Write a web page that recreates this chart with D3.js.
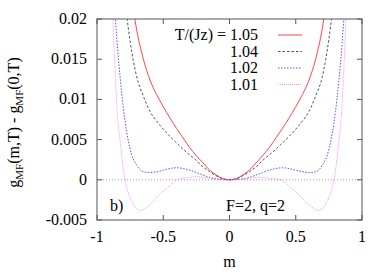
<!DOCTYPE html>
<html>
<head>
<meta charset="UTF-8" />
<script src="https://d3js.org/d3.v7.min.js"></script>
<style>
  body { margin: 0; background: #fff; }
  .frame { fill: none; stroke: #555; stroke-width: 1; }
  .tick { stroke: #555; stroke-width: 1; }
  .zero { stroke: #999; stroke-width: 1; stroke-dasharray: 1, 2; }
</style>
</head>
<body>
<svg width="391" height="273"></svg>
<script>
  const width = 391, height = 273;
  const margin = { left: 97, right: 29, top: 19, bottom: 53 };

  // axis ticks
  const xTicks = [-1, -0.5, 0, 0.5, 1];
  const yTicks = [-0.005, 0, 0.005, 0.01, 0.015, 0.02];

  // T/(Jz) = 1.05
  const m105 = [-0.75, -0.7, -0.65, -0.6, -0.55, -0.5, -0.45, -0.4, -0.35, -0.3, -0.25, -0.2, -0.15, -0.1, -0.05, 0,
                0.05, 0.1, 0.15, 0.2, 0.25, 0.3, 0.35, 0.4, 0.45, 0.5, 0.55, 0.6, 0.65, 0.7, 0.75];
  const g105 = [0.0240, 0.0186, 0.0150, 0.0124, 0.0106, 0.0091, 0.0077, 0.0064, 0.0052, 0.0040, 0.0030, 0.0021, 0.0012, 0.0006, 0.00015, 0,
                0.00015, 0.0006, 0.0012, 0.0021, 0.0030, 0.0040, 0.0052, 0.0064, 0.0077, 0.0091, 0.0106, 0.0124, 0.0150, 0.0188, 0.0245];

  // T/(Jz) = 1.04
  const m104 = [-0.8, -0.75, -0.7, -0.65, -0.6, -0.55, -0.5, -0.45, -0.4, -0.35, -0.3, -0.25, -0.2, -0.15, -0.1, -0.05, 0,
                0.05, 0.1, 0.15, 0.2, 0.25, 0.3, 0.35, 0.4, 0.45, 0.5, 0.55, 0.6, 0.65, 0.7, 0.75, 0.8];
  const g104 = [0.0240, 0.0172, 0.0128, 0.0104, 0.0085, 0.0073, 0.0063, 0.0054, 0.0046, 0.0038, 0.0031, 0.0024, 0.0016, 0.0010, 0.0005, 0.00012, 0,
                0.00012, 0.0005, 0.0010, 0.0016, 0.0024, 0.0031, 0.0038, 0.0046, 0.0054, 0.0063, 0.0073, 0.0085, 0.0104, 0.0128, 0.0175, 0.0245];

  // T/(Jz) = 1.02
  const m102 = [-0.9, -0.85, -0.8, -0.75, -0.7, -0.65, -0.6, -0.55, -0.5, -0.45, -0.4, -0.35, -0.3, -0.25, -0.2, -0.15, -0.1, -0.05, 0,
                0.05, 0.1, 0.15, 0.2, 0.25, 0.3, 0.35, 0.4, 0.45, 0.5, 0.55, 0.6, 0.65, 0.7, 0.75, 0.8, 0.85, 0.9];
  const g102 = [0.0300, 0.0175, 0.0088, 0.0038, 0.0018, 0.0010, 0.0009, 0.0010, 0.0012, 0.0014, 0.0015, 0.0014, 0.0012, 0.0009, 0.0006, 0.0003, 0.00012, 0.00003, 0,
                0.00003, 0.00012, 0.0003, 0.0006, 0.0009, 0.0012, 0.0014, 0.0015, 0.0014, 0.0012, 0.0010, 0.0009, 0.0010, 0.0018, 0.0038, 0.0085, 0.0170, 0.0300];

  // T/(Jz) = 1.01
  const m101 = [-0.9, -0.87, -0.85, -0.82, -0.8, -0.78, -0.75, -0.7, -0.675, -0.65, -0.6, -0.55, -0.5, -0.45, -0.4, -0.35, -0.3, -0.25, -0.2, -0.15, -0.1, -0.05, 0,
                0.05, 0.1, 0.15, 0.2, 0.25, 0.3, 0.35, 0.4, 0.45, 0.5, 0.55, 0.6, 0.65, 0.675, 0.7, 0.75, 0.78, 0.8, 0.82, 0.85, 0.87, 0.9];
  const g101 = [0.0280, 0.0160, 0.0092, 0.0040, 0.0012, -0.0007, -0.0022, -0.0036, -0.0038, -0.0037, -0.0031, -0.0022, -0.0014, -0.0007, 0.0000, 0.0002, 0.0003, 0.0004, 0.0003, 0.0002, 0.00008, 0.00002, 0,
                0.00002, 0.00008, 0.0002, 0.0003, 0.0003, 0.0002, 0.0001, -0.0001, -0.0008, -0.0015, -0.0023, -0.0031, -0.0037, -0.0038, -0.0036, -0.0022, -0.0007, 0.0012, 0.0040, 0.0095, 0.0165, 0.0290];

  const labels = ["1.05", "1.04", "1.02", "1.01"];

  const series = [
    { m: m105, g: g105, color: "#ff3030", dash: null },
    { m: m104, g: g104, color: "#404040", dash: "2.5,2" },
    { m: m102, g: g102, color: "#4040ff", dash: "1.5,1.5" },
    { m: m101, g: g101, color: "#ff80ff", dash: "1,1" }
  ];

  const svg = d3.select("svg");

  const x = d3.scaleLinear().domain([-1, 1]).range([margin.left, width - margin.right]);
  const y = d3.scaleLinear().domain([-0.005, 0.02]).range([height - margin.bottom, margin.top]);

  // text with the serif font set directly on the element
  function label(parent, tx, ty, str, anchor) {
    return parent.append("text")
      .attr("x", tx).attr("y", ty)
      .attr("font-family", "Liberation Serif")
      .attr("font-size", 16)
      .attr("fill", "#000")
      .attr("text-anchor", anchor || "start")
      .text(str);
  }

  svg.append("clipPath").attr("id", "clip")
    .append("rect")
    .attr("x", margin.left).attr("y", margin.top)
    .attr("width", width - margin.left - margin.right)
    .attr("height", height - margin.top - margin.bottom);

  // zero line
  svg.append("line").attr("class", "zero")
    .attr("x1", x(-1)).attr("x2", x(1))
    .attr("y1", y(0)).attr("y2", y(0));

  // curves
  const line = d3.line()
    .x(d => x(d[0]))
    .y(d => y(d[1]))
    .curve(d3.curveMonotoneX);

  svg.append("g").attr("clip-path", "url(#clip)")
    .selectAll("path")
    .data(series)
    .enter()
    .append("path")
    .attr("d", s => line(d3.zip(s.m, s.g)))
    .attr("fill", "none")
    .attr("stroke", s => s.color)
    .attr("stroke-width", 0.9)
    .attr("stroke-dasharray", s => s.dash);

  // frame and inward ticks on all sides
  svg.append("rect").attr("class", "frame")
    .attr("x", x(-1)).attr("y", y(0.02))
    .attr("width", x(1) - x(-1)).attr("height", y(-0.005) - y(0.02));

  const tl = 5;
  const tg = svg.append("g");
  xTicks.forEach(t => {
    tg.append("line").attr("class", "tick").attr("x1", x(t)).attr("x2", x(t)).attr("y1", y(-0.005)).attr("y2", y(-0.005) - tl);
    tg.append("line").attr("class", "tick").attr("x1", x(t)).attr("x2", x(t)).attr("y1", y(0.02)).attr("y2", y(0.02) + tl);
    label(svg, x(t), y(-0.005) + 22, t, "middle");
  });
  yTicks.forEach(t => {
    tg.append("line").attr("class", "tick").attr("x1", x(-1)).attr("x2", x(-1) + tl).attr("y1", y(t)).attr("y2", y(t));
    tg.append("line").attr("class", "tick").attr("x1", x(1)).attr("x2", x(1) - tl).attr("y1", y(t)).attr("y2", y(t));
    label(svg, x(-1) - 10, y(t) + 5, t, "end");
  });

  // axis titles
  label(svg, x(0), 267, "m", "middle");

  const yl = label(svg, null, null, "", "middle")
    .attr("transform", "translate(19," + ((y(0.02) + y(-0.005)) / 2 + 3) + ") rotate(-90)");
  yl.append("tspan").text("g");
  yl.append("tspan").attr("font-size", 11).attr("dy", 4).text("MF");
  yl.append("tspan").attr("dy", -4).text("(m,T) - g");
  yl.append("tspan").attr("font-size", 11).attr("dy", 4).text("MF");
  yl.append("tspan").attr("dy", -4).text("(0,T)");

  // legend
  const lg = svg.append("g");
  series.forEach((s, i) => {
    const ly = 35 + i * 16.5;
    label(lg, 258, ly + 5, i === 0 ? "T/(Jz) = " + labels[i] : labels[i], "end");
    lg.append("line")
      .attr("x1", 278).attr("x2", 302).attr("y1", ly).attr("y2", ly)
      .attr("stroke", s.color).attr("stroke-width", 0.9)
      .attr("stroke-dasharray", s.dash);
  });

  // annotations
  label(svg, 110, 211, "b)");
  label(svg, 226, 211, "F=2, q=2");
</script>
</body>
</html>
